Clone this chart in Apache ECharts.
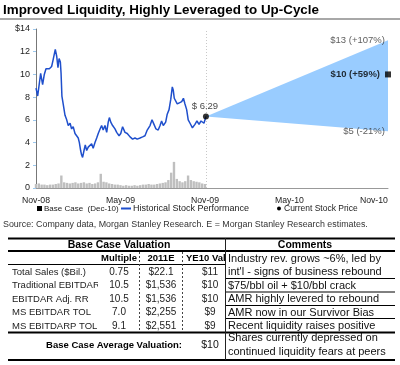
<!DOCTYPE html>
<html><head><meta charset="utf-8">
<script src="https://cdn.jsdelivr.net/npm/echarts@6/dist/echarts.min.js"></script>
<style>html,body{margin:0;padding:0;background:#fff}#c{width:400px;height:365px}</style>
</head><body><div id="c"></div>
<script>
// ---------- data ----------
const titleText = 'Improved Liquidity, Highly Leveraged to Up-Cycle';
const xTickValues = [0, 6, 12, 18, 24];           // months since Nov-08
const xTickLabels = ['Nov-08', 'May-09', 'Nov-09', 'May-10', 'Nov-10'];
const yTopLabel = '$14';
// historical price: [months since Nov-08, price $]
const priceHistory = [
  [0.00,8.8],[0.12,8.1],[0.33,10.1],[0.47,9.1],[0.59,10.0],[0.71,10.5],[0.95,10.5],[1.11,10.7],
  [1.20,11.2],[1.37,12.2],[1.47,11.6],[1.56,10.6],[1.64,11.4],[1.73,11.1],[1.78,10.1],[1.84,8.1],
  [1.93,7.4],[2.06,6.4],[2.18,6.0],[2.29,5.5],[2.42,5.7],[2.53,5.2],[2.64,5.4],[2.77,4.8],
  [2.89,4.7],[3.00,4.4],[3.08,4.0],[3.17,3.3],[3.24,2.9],[3.31,2.7],[3.41,3.3],[3.50,3.8],
  [3.60,3.3],[3.71,3.6],[3.84,3.5],[3.95,3.9],[4.06,3.5],[4.19,4.0],[4.31,4.4],[4.42,4.8],
  [4.55,5.2],[4.66,5.5],[4.77,5.1],[4.90,5.5],[5.02,4.9],[5.13,5.8],[5.21,6.2],[5.31,5.8],
  [5.44,5.5],[5.61,5.2],[5.73,4.9],[5.90,4.6],[6.02,4.8],[6.15,5.4],[6.32,4.9],[6.48,4.8],
  [6.68,4.5],[6.86,4.3],[7.03,4.4],[7.19,4.3],[7.39,4.4],[7.57,4.5],[7.74,4.6],[7.90,5.1],
  [8.10,5.5],[8.24,6.0],[8.38,5.6],[8.52,5.2],[8.68,5.1],[8.81,5.5],[8.92,5.9],[9.04,5.5],
  [9.21,5.8],[9.32,6.5],[9.45,6.9],[9.57,7.8],[9.68,8.9],[9.75,8.6],[9.82,7.9],[9.92,8.0],
  [10.03,7.4],[10.18,7.5],[10.35,7.6],[10.47,7.9],[10.58,7.4],[10.70,6.9],[10.81,6.0],[10.94,5.7],
  [11.11,5.3],[11.29,5.6],[11.43,5.9],[11.58,5.6],[11.72,5.9],[11.83,6.0],[11.93,5.7],[12.07,6.29]
];
// trading volume (scaled to price axis): [months since Nov-08, height]
const volume = [
  [0.0,0.35],[0.2,0.4],[0.4,0.3],[0.6,0.3],[0.8,0.25],[1.0,0.3],[1.2,0.3],[1.4,0.35],[1.6,0.4],[1.8,1.1],
  [2.0,0.5],[2.2,0.45],[2.4,0.4],[2.6,0.45],[2.8,0.5],[3.0,0.4],[3.2,0.45],[3.4,0.5],[3.6,0.4],[3.8,0.45],
  [4.0,0.35],[4.2,0.4],[4.4,0.5],[4.6,1.25],[4.8,0.55],[5.0,0.5],[5.2,0.4],[5.4,0.35],[5.6,0.3],[5.8,0.3],
  [6.0,0.25],[6.2,0.2],[6.4,0.25],[6.6,0.2],[6.8,0.2],[7.0,0.25],[7.2,0.2],[7.4,0.25],[7.6,0.3],[7.8,0.3],
  [8.0,0.35],[8.2,0.3],[8.4,0.3],[8.6,0.35],[8.8,0.4],[9.0,0.45],[9.2,0.5],[9.4,0.7],[9.6,1.35],[9.8,2.3],
  [10.0,0.8],[10.2,0.6],[10.4,0.5],[10.6,0.6],[10.8,1.1],[11.0,0.7],[11.2,0.6],[11.4,0.55],[11.6,0.5],[11.8,0.4],[12.0,0.35]
];
const currentDate = 12.07, currentPrice = 6.29;
const baseCaseDate = 25;                     // Dec-10
const fanHigh = 13, fanBase = 10, fanLow = 5;
const fanLabels = ['$13 (+107%)', '$10 (+59%)', '$5 (-21%)'];
const legendLabels = ['Base Case  (Dec-10)', 'Historical Stock Performance', 'Current Stock Price'];
const sourceText = 'Source: Company data, Morgan Stanley Research. E = Morgan Stanley Research estimates.';
// table
const tableTitle = 'Base Case Valuation';
const commentsTitle = 'Comments';
const colHeaders = ['Multiple', '2011E', 'YE10 Val'];
const rowLabels = ['Total Sales ($Bil.)', 'Traditional EBITDAR', 'EBITDAR Adj. RR', 'MS EBITDAR TOL', 'MS EBITDARP TOL'];
const multiples = ['0.75', '10.5', '10.5', '7.0', '9.1'];
const est2011 = ['$22.1', '$1,536', '$1,536', '$2,255', '$2,551'];
const ye10Val = ['$11', '$10', '$10', '$9', '$9'];
const comments = [
  ["Industry rev. grows ~6%, led by", "int'l - signs of business rebound"],
  ['$75/bbl oil + $10/bbl crack'],
  ['AMR highly levered to rebound'],
  ['AMR now in our Survivor Bias'],
  ['Recent liquidity raises positive'],
  ['Shares currently depressed on', 'continued liquidity fears at peers']
];
const avgLabel = 'Base Case Average Valuation:';
const avgValue = '$10';

// ---------- chart ----------
const FF = '"Liberation Sans", Arial, sans-serif';
const chart = echarts.init(document.getElementById('c'), null, {renderer: 'canvas'});
const g = [];
const txt = (x, y, text, opt = {}) => g.push({type: 'text', silent: true, z: opt.z || 10, style: {
  x, y, text, fill: opt.fill || '#111', textAlign: opt.align || 'left', textVerticalAlign: 'middle',
  font: (opt.bold ? 'bold ' : '') + (opt.size || 10) + 'px ' + FF}});
const hline = (x1, x2, y, w, color, dash) => g.push({type: 'line', silent: true, z: 12,
  shape: {x1, y1: y, x2, y2: y}, style: {stroke: color || '#000', lineWidth: w || 1, lineDash: dash || null}});
const vline = (x, y1, y2, w, color, dash) => g.push({type: 'line', silent: true, z: 12,
  shape: {x1: x, y1, x2: x, y2}, style: {stroke: color || '#000', lineWidth: w || 1, lineDash: dash || null}});

// title
txt(3, 10, titleText, {bold: true, size: 13.4, fill: '#000'});
g.push({type: 'rect', silent: true, shape: {x: 0, y: 18, width: 400, height: 2}, style: {fill: '#a8a8a8'}});
// legend
g.push({type: 'rect', silent: true, shape: {x: 37, y: 206, width: 5, height: 5}, style: {fill: '#000'}});
txt(44, 208.5, legendLabels[0], {size: 8, fill: '#222'});
hline(121, 131, 208.5, 2, '#1f4fcc');
txt(133, 208.5, legendLabels[1], {size: 9, fill: '#222'});
g.push({type: 'circle', silent: true, shape: {cx: 279, cy: 208.5, r: 2}, style: {fill: '#000'}});
txt(284, 208.5, legendLabels[2], {size: 8.5, fill: '#222'});
// source
txt(3, 225, sourceText, {size: 8.9, fill: '#333'});

// table
const L = 8, R = 395;
hline(L, R, 238.5, 2);
hline(L, R, 251, 2);
hline(L, 225, 264.5, 1);
[278.5, 292, 305.5, 318.5].forEach(y => hline(226, R, y, 1));
hline(L, R, 332.5, 2);
hline(L, R, 360, 2);
vline(139.5, 252, 332, 1, '#444', [2, 2]);
vline(182.5, 252, 332, 1, '#444', [2, 2]);
vline(225.5, 238, 360, 1, '#222');
txt(119, 245, tableTitle, {bold: true, size: 10.5, fill: '#000', align: 'center'});
txt(305, 245, commentsTitle, {bold: true, size: 10.5, fill: '#000', align: 'center'});
txt(137, 258.5, colHeaders[0], {bold: true, size: 9.5, fill: '#000', align: 'right'});
txt(161, 258.5, colHeaders[1], {bold: true, size: 9.5, fill: '#000', align: 'center'});
txt(186, 258.5, colHeaders[2], {bold: true, size: 9.5, fill: '#000'});
const rowY = [272, 285.5, 299, 312.5, 326];
rowLabels.forEach((t, i) => {
  txt(12, rowY[i], t, {size: 9.5, fill: '#222'});
  txt(119, rowY[i], multiples[i], {size: 10, fill: '#222', align: 'center'});
  txt(161, rowY[i], est2011[i], {size: 10, fill: '#222', align: 'center'});
  txt(210, rowY[i], ye10Val[i], {size: 10, fill: '#222', align: 'center'});
});
// clip overflowing row labels / header at column edges
g.push({type: 'rect', silent: true, z: 11, shape: {x: 98, y: 266, width: 8, height: 65}, style: {fill: '#fff'}});
g.push({type: 'rect', silent: true, z: 11, shape: {x: 225, y: 253, width: 3, height: 11}, style: {fill: '#fff'}});
const commentY = [[258.5, 272], [285.5], [299], [312.5], [325.5], [338, 351.5]];
comments.forEach((lines, i) => lines.forEach((t, j) => txt(228, commentY[i][j], t, {size: 11, fill: '#111'})));
txt(182, 345, avgLabel, {bold: true, size: 9.5, fill: '#000', align: 'right'});
txt(210, 345, avgValue, {size: 10.5, fill: '#111', align: 'center'});

const xLabelFor = v => { const i = xTickValues.indexOf(v); return i >= 0 ? xTickLabels[i] : ''; };

chart.setOption({
  animation: false,
  grid: {left: 36, right: 12, top: 29, bottom: 177},
  xAxis: {
    type: 'value', min: 0, max: baseCaseDate, interval: 6,
    axisLine: {show: true, lineStyle: {color: '#999', width: 1}},
    axisTick: {show: false}, splitLine: {show: false},
    axisLabel: {formatter: xLabelFor, color: '#222', fontSize: 8.7, fontFamily: FF, margin: 8, showMaxLabel: false}
  },
  yAxis: {
    type: 'value', min: 0, max: 14, interval: 2,
    axisLine: {show: true, lineStyle: {color: '#777', width: 1}},
    axisTick: {show: true, length: 3, lineStyle: {color: '#9cc8ee'}},
    splitLine: {show: false},
    axisLabel: {formatter: v => v === 14 ? yTopLabel : String(v), color: '#222', fontSize: 9, fontFamily: FF, margin: 6}
  },
  graphic: g,
  series: [
    {
      type: 'custom', z: 1, clip: false, silent: true,
      data: [[currentDate, currentPrice]],
      renderItem: (params, api) => ({
        type: 'polygon',
        shape: {points: [api.coord([currentDate, currentPrice]), api.coord([baseCaseDate, fanHigh]), api.coord([baseCaseDate, fanLow])]},
        style: {fill: '#99ccff'}
      })
    },
    {
      type: 'bar', z: 2, data: volume, barWidth: 2.4, silent: true,
      itemStyle: {color: '#bfbfbf'}
    },
    {
      type: 'line', z: 3, data: priceHistory, showSymbol: false, silent: true,
      lineStyle: {color: '#1f4fcc', width: 1.5},
      markLine: {
        silent: true, symbol: 'none', label: {show: false},
        lineStyle: {color: '#c8c8c8', type: [1, 2], width: 1},
        data: [{xAxis: currentDate}]
      }
    },
    {
      type: 'scatter', z: 5, silent: true, data: [[currentDate, currentPrice]],
      symbol: 'circle', symbolSize: 6, itemStyle: {color: '#000'},
      label: {show: true, position: 'top', distance: 2, offset: [-1, 0], formatter: '$ ' + currentPrice,
        color: '#111', fontSize: 9.5, fontFamily: FF}
    },
    {
      type: 'scatter', z: 5, silent: true, clip: false, data: [[baseCaseDate, fanBase]],
      symbol: 'rect', symbolSize: 6, itemStyle: {color: '#000'},
      label: {show: true, position: 'left', distance: 5, formatter: fanLabels[1],
        color: '#000', fontWeight: 'bold', fontSize: 9.5, fontFamily: FF}
    },
    {
      type: 'scatter', z: 5, silent: true, clip: false,
      data: [[baseCaseDate, fanHigh, fanLabels[0]], [baseCaseDate, fanLow, fanLabels[2]]],
      symbolSize: 0.1, itemStyle: {color: 'transparent'},
      label: {show: true, position: 'left', distance: 3, formatter: p => p.data[2],
        color: '#333', fontSize: 9.5, fontFamily: FF}
    }
  ]
});
</script></body></html>
